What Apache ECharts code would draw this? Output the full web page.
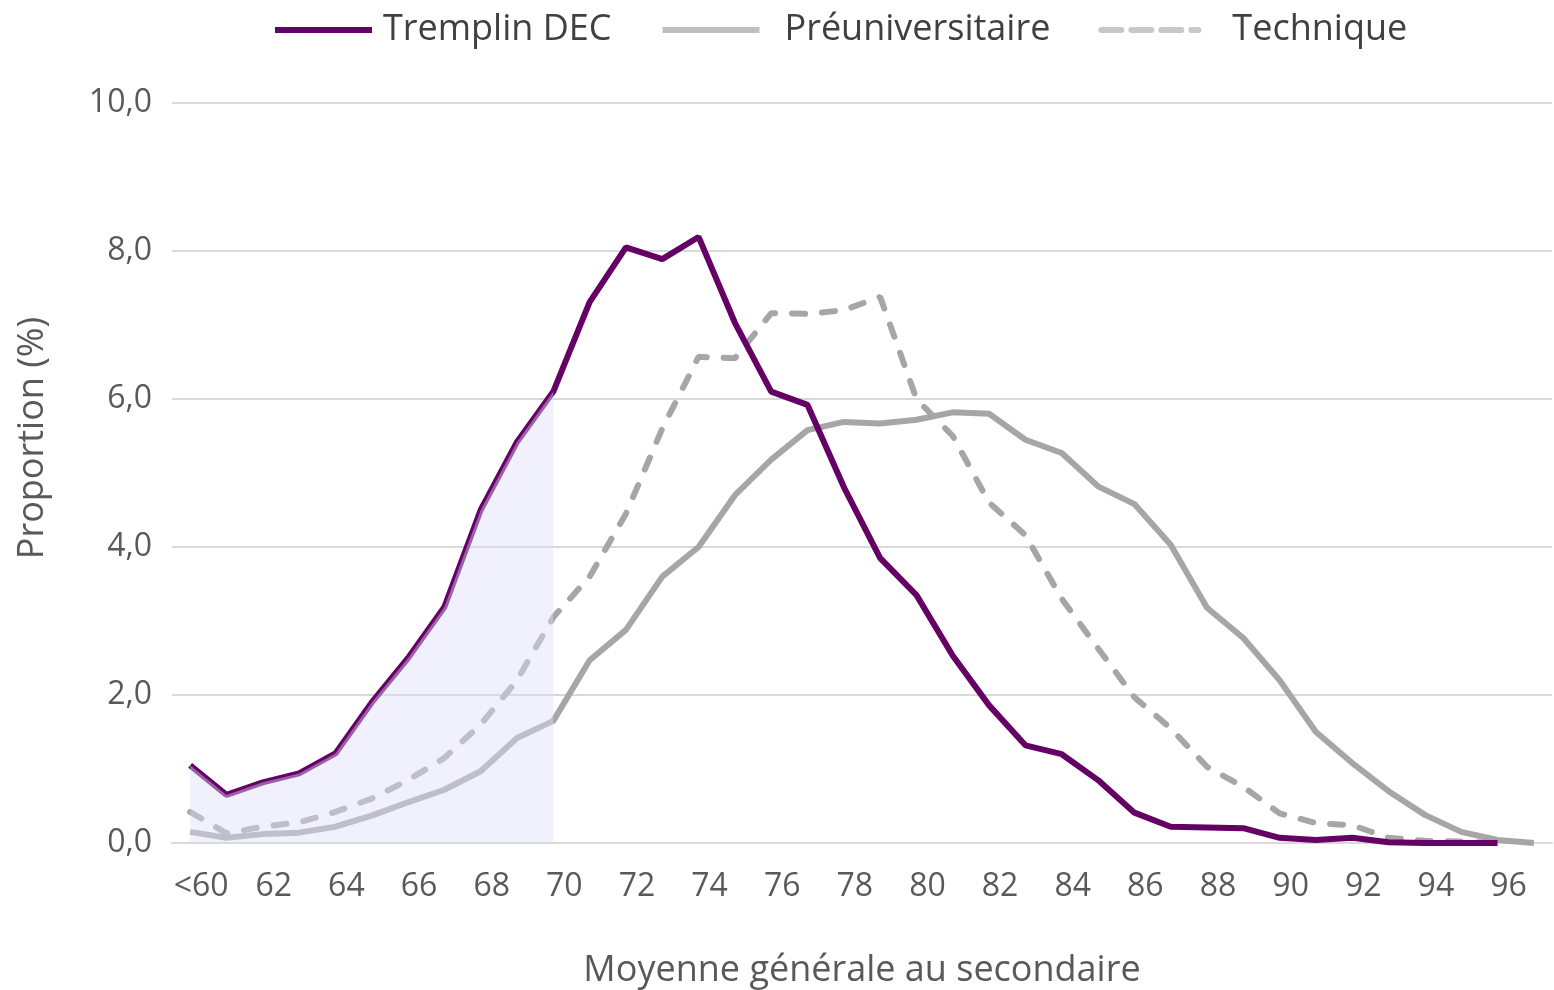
<!DOCTYPE html>
<html lang="fr">
<head>
  <meta charset="UTF-8">
  <title>Moyenne générale au secondaire</title>
  <style>
    html, body { margin: 0; padding: 0; background: #fff; }
    #main { width: 1554px; height: 990px; }
  </style>
</head>
<body>
<div id="main"></div>
<script src="https://cdn.jsdelivr.net/npm/echarts@6/dist/echarts.min.js"></script>
<script>
  // categories : moyenne générale au secondaire
  const categories = ['<60', '61', '62', '63', '64', '65', '66', '67', '68', '69',
    '70', '71', '72', '73', '74', '75', '76', '77', '78', '79',
    '80', '81', '82', '83', '84', '85', '86', '87', '88', '89',
    '90', '91', '92', '93', '94', '95', '96', '97'];

  // proportion (%) par programme
  const tremplin = [1.05, 0.65, 0.82, 0.94, 1.21, 1.9, 2.5, 3.19, 4.5, 5.42,
    6.1, 7.31, 8.05, 7.89, 8.19, 7.03, 6.1, 5.92, 4.81, 3.85,
    3.35, 2.53, 1.86, 1.32, 1.2, 0.85, 0.41, 0.22, 0.21, 0.2,
    0.07, 0.04, 0.07, 0.01, 0, 0, 0, null];
  const preu = [0.15, 0.07, 0.12, 0.14, 0.22, 0.37, 0.55, 0.72, 0.97, 1.42,
    1.65, 2.47, 2.88, 3.6, 4.0, 4.7, 5.18, 5.58, 5.69, 5.67,
    5.72, 5.82, 5.8, 5.45, 5.27, 4.82, 4.58, 4.03, 3.18, 2.77,
    2.2, 1.5, 1.08, 0.7, 0.38, 0.15, 0.04, 0];
  const technique = [0.42, 0.13, 0.22, 0.28, 0.42, 0.6, 0.85, 1.15, 1.6, 2.2,
    3.05, 3.6, 4.45, 5.6, 6.57, 6.55, 7.16, 7.15, 7.2, 7.38,
    6.0, 5.5, 4.6, 4.16, 3.3, 2.63, 1.97, 1.55, 1.03, 0.76,
    0.4, 0.27, 0.24, 0.07, 0.03, 0.02, 0, null];

  const seriesNames = ['Tremplin DEC', 'Préuniversitaire', 'Technique'];
  const yTicks = { min: 0, max: 10, interval: 2 };
  const shadeEnd = '70'; // zone ombrée jusqu'à 70

  const endIdx = categories.indexOf(shadeEnd);
  const shade = tremplin.map((v, i) => (i <= endIdx ? v : null));

  const txt = '#595959';
  const font = '"Open Sans", "Noto Sans", sans-serif';

  var chartDom = document.getElementById('main');
  var myChart = echarts.init(chartDom);
  var option = {
    animation: false,
    textStyle: { fontFamily: font },
    legend: {
      top: 7,
      left: 267,
      itemWidth: 97,
      itemHeight: 14,
      itemGap: 48,
      itemStyle: { opacity: 0 },
      lineStyle: { width: 6 },
      textStyle: { fontSize: 36, color: '#404040', fontFamily: font },
      data: [
        { name: seriesNames[0], textStyle: { padding: [0, 0, 0, 6] } },
        { name: seriesNames[1], textStyle: { padding: [0, 0, 0, 20] }, lineStyle: { color: '#bfbfbf' } },
        { name: seriesNames[2], textStyle: { padding: [0, 0, 0, 29] }, lineStyle: { color: '#c8c8c8', type: [20, 10] } }
      ]
    },
    grid: { left: 172, right: 2, top: 103, bottom: 147, outerBoundsMode: 'none' },
    xAxis: {
      type: 'category',
      data: categories,
      boundaryGap: true,
      name: 'Moyenne générale au secondaire',
      nameLocation: 'middle',
      nameGap: 110,
      nameTextStyle: { fontSize: 36, color: txt },
      axisLine: { lineStyle: { color: '#d9d9d9', width: 2 } },
      axisTick: { show: false },
      axisLabel: { interval: 1, fontSize: 32, color: txt, margin: 28, padding: [0, 0, 0, 22] }
    },
    yAxis: {
      type: 'value',
      min: yTicks.min,
      max: yTicks.max,
      interval: yTicks.interval,
      name: 'Proportion (%)',
      nameLocation: 'middle',
      nameGap: 121,
      nameTextStyle: { fontSize: 36, color: txt, padding: [0, 0, 0, 70] },
      axisLine: { show: false },
      axisTick: { show: false },
      splitLine: { lineStyle: { color: '#d9d9d9', width: 2 } },
      axisLabel: {
        fontSize: 32, color: txt, margin: 20,
        formatter: v => v.toFixed(1).replace('.', ',')
      }
    },
    series: [
      {
        name: seriesNames[1], type: 'line', data: preu, symbol: 'none', z: 2,
        lineStyle: { color: '#a6a6a6', width: 6 }, itemStyle: { color: '#a6a6a6' }
      },
      {
        name: seriesNames[2], type: 'line', data: technique, symbol: 'none', z: 3,
        lineStyle: { color: '#a6a6a6', width: 6, type: [13, 17], cap: 'round' },
        itemStyle: { color: '#bfbfbf' }
      },
      {
        name: seriesNames[0], type: 'line', data: tremplin, symbol: 'none', z: 4,
        lineStyle: { color: '#650065', width: 6 }, itemStyle: { color: '#650065' }
      },
      {
        name: 'zone', type: 'line', data: shade, symbol: 'none', z: 5,
        silent: true,
        lineStyle: { width: 0, opacity: 0 },
        areaStyle: { color: 'rgba(222, 222, 252, 0.62)' }
      }
    ]
  };
  myChart.setOption(option);
</script>
</body>
</html>
